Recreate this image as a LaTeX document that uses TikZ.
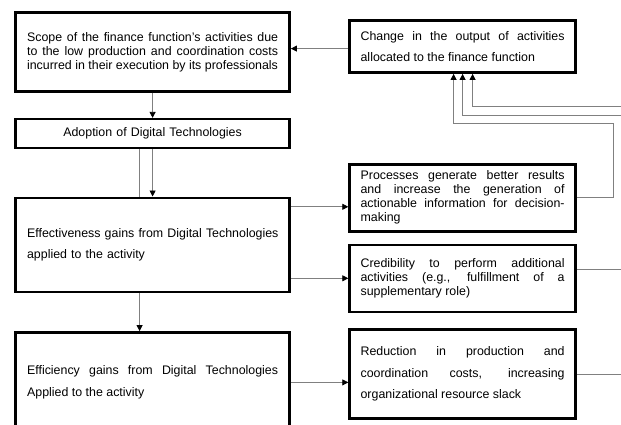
\documentclass[tikz,border=0pt]{standalone}
\usepackage{fontspec}
\setmainfont{Liberation Sans}
\usetikzlibrary{arrows.meta, positioning, calc}
\definecolor{linkgray}{RGB}{128,128,128}

\begin{document}
\begin{tikzpicture}[
    x=1pt, y=1pt,
    box/.style={rectangle, draw, line width=2.6pt, inner sep=0pt, font=\fontsize{12.4}{14}\selectfont},
    leftbox/.style={box, minimum width=274pt, text width=251pt},
    rightbox/.style={box, minimum width=226pt, text width=204pt},
    wide/.style={font=\fontsize{12.4}{21.5}\selectfont},
    arrow/.style={-{Triangle[length=6pt, width=6pt, color=black]}, draw=linkgray, line width=0.8pt},
    link/.style={draw=linkgray, line width=0.8pt},
    node distance=25pt
]

    % page
    \fill[white] (0,0) rectangle (621,-425);
    \clip (0,0) rectangle (621,-425);

    % Left column
    \node[leftbox, minimum height=79pt, align=justify, anchor=north west] (scope) at (14.3,-11.3) {
        Scope of the finance function’s activities due\linebreak
        to the low production and coordination costs\linebreak
        incurred in their execution by its professionals};
    \node[leftbox, minimum height=29pt, align=center, below=25pt of scope] (adopt) {Adoption of Digital Technologies};
    \node[leftbox, wide, minimum height=94pt, align=left, below=47pt of adopt] (effect) {
        \mbox{Effectiveness gains from Digital Technologies}\\
        applied to the activity};
    \node[leftbox, wide, minimum height=100pt, align=justify, below=38pt of effect] (effic) {
        Efficiency gains from Digital Technologies\linebreak
        Applied to the activity};

    % Right column
    \node[rightbox, wide, minimum height=52pt, align=justify, anchor=north west] (change) at (348.3,-19.3) {
        Change in the output of activities\linebreak
        allocated to the finance function};
    \node[rightbox, minimum height=67pt, align=justify, below=89pt of change] (process) {
        Processes generate better results\linebreak
        and increase the generation of\linebreak
        actionable information for decision-\linebreak
        making};
    \node[rightbox, minimum height=67pt, align=justify, below=11pt of process] (cred) {
        Credibility to perform additional\linebreak
        activities (e.g., fulfillment of a\linebreak
        supplementary role)};
    \node[rightbox, wide, minimum height=89pt, align=justify, below=15pt of cred] (reduc) {
        Reduction in production and\linebreak
        coordination costs, increasing\linebreak
        organizational resource slack};

    % Downward flow
    \draw[arrow] (scope.south) -- (adopt.north);
    \draw[link] ([xshift=-13pt]adopt.south) -- ([xshift=-13pt]effect.north);
    \draw[arrow] (adopt.south) -- (effect.north);
    \draw[arrow] ([xshift=-13pt]effect.south) -- ([xshift=-13pt]effic.north);

    % Outcomes
    \draw[arrow] ([yshift=38pt]effect.east) -- ([yshift=38pt]effect.east -| process.west);
    \draw[arrow] (cred.west -| effect.east) -- (cred.west);
    \draw[arrow] (effic.east) -- (effic.east -| reduc.west);
    \draw[arrow] ([yshift=-2pt]change.west) -- ([yshift=-2pt]change.west -| scope.east);

    % Feedback lines
    \coordinate (rim) at (625,0);
    \coordinate (bend) at (613,-123);
    \coordinate (inA) at (625,-106);
    \coordinate (inB) at (625,-115);
    \draw[arrow] (process.east) -| (bend) -| ([xshift=-9pt]change.south);
    \draw[arrow] (inB) -| (change.south);
    \draw[arrow] (inA) -| ([xshift=10pt]change.south);
    \draw[link] ([yshift=9pt]cred.east) -- ([yshift=9pt]cred.east -| rim);
    \draw[link] (reduc.east) -- (reduc.east -| rim);

\end{tikzpicture}
\end{document}
